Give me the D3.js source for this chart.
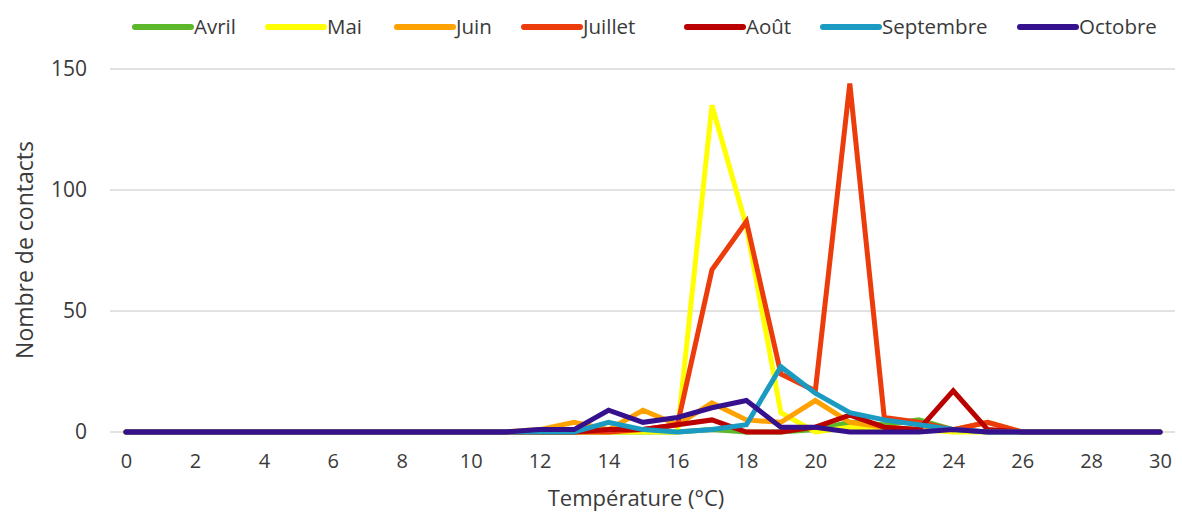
<!DOCTYPE html>
<html>
<head>
<meta charset="utf-8">
<script src="https://cdn.jsdelivr.net/npm/d3@7"></script>
<style>
  body { margin: 0; background: #fff; }
  text { font-family: "Open Sans", sans-serif; fill: #3a3a3a; }
</style>
</head>
<body>
<div id="chart"></div>
<script>
// Temperatures (°C) on the x axis
const temps = d3.range(0, 31);

// Number of contacts per month, one value per degree 0..30
const avril     = [0,0,0,0,0,0,0,0,0,0,0,0,0,0,0,0,0,1,0,0,1,4,3,5,1,0,0,0,0,0,0];
const mai       = [0,0,0,0,0,0,0,0,0,0,0,0,0,0,0,0,0,135,85,8,0,2,1,1,0,0,0,0,0,0,0];
const juin      = [0,0,0,0,0,0,0,0,0,0,0,0,1,4,1,9,3,12,5,4,13,4,2,1,1,4,0,0,0,0,0];
const juillet   = [0,0,0,0,0,0,0,0,0,0,0,0,0,0,0,1,3,67,87,24,17,144,6,4,1,4,0,0,0,0,0];
const aout      = [0,0,0,0,0,0,0,0,0,0,0,0,0,0,1,1,3,5,0,0,2,7,2,1,17,1,0,0,0,0,0];
const septembre = [0,0,0,0,0,0,0,0,0,0,0,0,0,0,4,1,0,1,3,27,16,8,5,3,1,0,0,0,0,0,0];
const octobre   = [0,0,0,0,0,0,0,0,0,0,0,0,1,1,9,4,6,10,13,2,2,0,0,0,1,0,0,0,0,0,0];

const monthNames = ["Avril", "Mai", "Juin", "Juillet", "Août", "Septembre", "Octobre"];
const monthColors = ["#5cb82a", "#ffff00", "#ffa200", "#ec3c0c", "#bb0000", "#1b9ac2", "#36118e"];
const xTicks = d3.range(0, 31, 2);
const yTicks = [0, 50, 100, 150];

const series = [avril, mai, juin, juillet, aout, septembre, octobre].map((vals, i) => ({
    name: monthNames[i],
    color: monthColors[i],
    values: vals.map((v, j) => ({ t: temps[j], v: v }))
}));

const width = 1182;
const height = 515;

const x = d3.scaleLinear().domain([0, 30]).range([126, 1160]);
const y = d3.scaleLinear().domain([0, 150]).range([432, 69]);

const svg = d3.select("#chart")
    .append("svg")
    .attr("width", width)
    .attr("height", height);

// Horizontal gridlines
svg.append("g")
    .selectAll("line")
    .data(yTicks)
    .enter().append("line")
    .attr("x1", 110)
    .attr("x2", 1175)
    .attr("y1", d => y(d))
    .attr("y2", d => y(d))
    .attr("stroke", "#d9d9d9")
    .attr("stroke-width", 1.5);

// Y axis labels
const yAxis = svg.append("g")
    .attr("transform", "translate(87,0)")
    .call(d3.axisLeft(y).tickValues(yTicks).tickSize(0).tickPadding(0));
yAxis.select(".domain").remove();
yAxis.selectAll("text")
    .attr("x", 0)
    .style("font-size", "21px")
    .style("font-family", "'Open Sans', sans-serif")
    .attr("fill", "#3a3a3a");

// X axis labels
const xAxis = svg.append("g")
    .attr("transform", "translate(0,454)")
    .call(d3.axisBottom(x).tickValues(xTicks).tickSize(0).tickPadding(0));
xAxis.select(".domain").remove();
xAxis.selectAll("text")
    .style("font-size", "20px")
    .style("font-family", "'Open Sans', sans-serif")
    .attr("fill", "#3a3a3a");

// Axis titles
svg.append("text")
    .attr("x", 636)
    .attr("y", 506)
    .attr("text-anchor", "middle")
    .style("font-size", "22px")
    .text("Température (°C)");

svg.append("text")
    .attr("transform", "translate(33,250) rotate(-90)")
    .attr("text-anchor", "middle")
    .style("font-size", "23px")
    .text("Nombre de contacts");

// Lines
const line = d3.line()
    .x(d => x(d.t))
    .y(d => y(d.v));

svg.append("g")
    .selectAll("path")
    .data(series)
    .enter().append("path")
    .attr("d", d => line(d.values))
    .attr("fill", "none")
    .attr("stroke", d => d.color)
    .attr("stroke-width", 5)
    .attr("stroke-linecap", "round");

// Legend
const legendX = [135, 268, 397, 524, 687, 823, 1020];
const legend = svg.append("g")
    .selectAll("g")
    .data(series)
    .enter().append("g")
    .attr("transform", (d, i) => `translate(${legendX[i]},27)`);

legend.append("line")
    .attr("x1", 0)
    .attr("x2", 56)
    .attr("stroke", d => d.color)
    .attr("stroke-width", 6)
    .attr("stroke-linecap", "round");

legend.append("text")
    .attr("x", 59)
    .attr("dy", "0.35em")
    .style("font-size", "20.5px")
    .text(d => d.name);
</script>
</body>
</html>
